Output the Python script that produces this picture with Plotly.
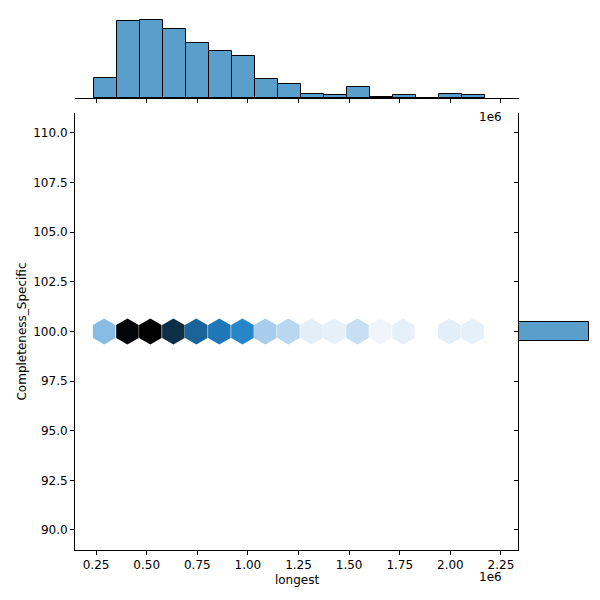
import plotly.graph_objects as go

bin_start = 240000
bin_width = 113600
hist_counts = [18, 70, 71, 63, 50, 43, 38, 17, 13, 4, 3, 10, 1, 3, 0, 4, 3]
hex_x = [290000, 405000, 518000, 632000, 745000, 859000, 973000, 1086000, 1200000,
         1314000, 1427000, 1541000, 1654000, 1768000, 1995000, 2109000]
hex_counts = [22, 70, 71, 63, 50, 43, 38, 17, 13, 4, 3, 10, 1, 3, 4, 3]
y_value = 100
x_ticks = [250000, 500000, 750000, 1000000, 1250000, 1500000, 1750000, 2000000, 2250000]
x_ticklabels = ["0.25", "0.50", "0.75", "1.00", "1.25", "1.50", "1.75", "2.00", "2.25"]
y_ticks = [90, 92.5, 95, 97.5, 100, 102.5, 105, 107.5, 110]
y_ticklabels = ["90.0", "92.5", "95.0", "97.5", "100.0", "102.5", "105.0", "107.5", "110.0"]

centers = [bin_start + bin_width * (i + 0.5) for i in range(len(hist_counts))]
total = sum(hist_counts)

fig = go.Figure()
fig.add_trace(go.Scatter(
    x=hex_x, y=[y_value] * len(hex_x), mode="markers",
    marker=dict(symbol="hexagon", size=26, color=hex_counts, cmin=0, cmax=max(hex_counts),
                colorscale=[[0, "#f4f8fc"], [0.25, "#a3cbeb"], [0.55, "#2182c8"],
                            [0.8, "#16517c"], [1, "#000000"]],
                line=dict(width=0)),
    xaxis="x", yaxis="y", showlegend=False, hoverinfo="skip"))
fig.add_trace(go.Bar(
    x=centers, y=hist_counts, width=bin_width, marker=dict(color="#5a9fcc", line=dict(color="black", width=1)),
    xaxis="x2", yaxis="y2", showlegend=False))
fig.add_trace(go.Bar(
    y=[y_value], x=[total], width=0.95, base=0, orientation="h",
    marker=dict(color="#5a9fcc", line=dict(color="black", width=1)),
    xaxis="x3", yaxis="y3", showlegend=False))

xr = [146000, 2339000]
yr = [88.99, 111.0]
axfont = dict(family="DejaVu Sans", size=12, color="black")
common = dict(showgrid=False, zeroline=False, showline=True, linecolor="black", ticks="outside",
              ticklen=4, tickcolor="black", tickfont=axfont, automargin=False)
fig.update_layout(
    width=600, height=600, margin=dict(l=0, r=0, t=0, b=0),
    plot_bgcolor="white", paper_bgcolor="white", bargap=0,
    xaxis=dict(domain=[67/600, 511/600], range=xr, tickvals=x_ticks, ticktext=x_ticklabels,
               title=dict(text="longest", font=axfont, standoff=4), anchor="y", **common),
    yaxis=dict(domain=[1-542/600, 1-105/600], range=yr, tickvals=y_ticks, ticktext=y_ticklabels,
               title=dict(text="Completeness_Specific", font=axfont, standoff=4), anchor="x", **common),
    xaxis2=dict(domain=[67/600, 511/600], range=xr, tickvals=x_ticks, showticklabels=False,
                anchor="y2", **common),
    yaxis2=dict(domain=[1-90/600, 1-10/600], range=[0, 73], visible=False, anchor="x2"),
    xaxis3=dict(domain=[511/600, 590/600], range=[0, total * 1.13], visible=False, anchor="y3"),
    yaxis3=dict(domain=[1-542/600, 1-105/600], range=yr, tickvals=y_ticks, showticklabels=False,
                anchor="x3", **common),
)
fig.add_annotation(text="1e6", x=496/600, y=1-100/600, xref="paper", yref="paper",
                   showarrow=False, font=axfont, xanchor="right")
fig.add_annotation(text="1e6", x=496/600, y=1-578/600, xref="paper", yref="paper",
                   showarrow=False, font=axfont, xanchor="right")
fig.write_html("out.html")
